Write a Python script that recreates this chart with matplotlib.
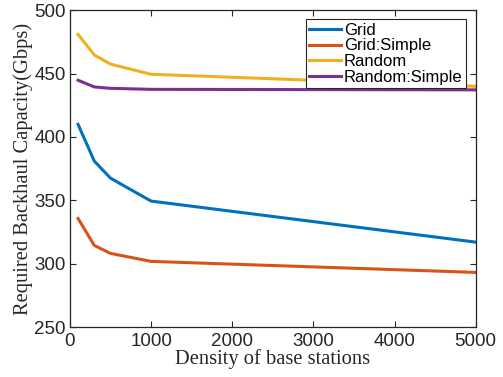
import matplotlib
matplotlib.use("Agg")
import matplotlib.pyplot as plt

density = [100, 300, 500, 1000, 5000]
grid = [410, 381, 367.5, 349.4, 317]
grid_simple = [335.7, 314.4, 308.1, 301.8, 293.1]
random_ = [481, 464.8, 457.5, 449.5, 440]
random_simple = [444.8, 439.5, 438.4, 437.6, 437.2]
labels = ["Grid", "Grid:Simple", "Random", "Random:Simple"]
colors = ["#0072BD", "#D95319", "#EDB120", "#7E2F8E"]
xticks = [0, 1000, 2000, 3000, 4000, 5000]
yticks = [250, 300, 350, 400, 450, 500]

plt.rcParams['font.family'] = ['Liberation Sans', 'DejaVu Sans']
fig = plt.figure(figsize=(5.03, 3.77), dpi=100)
ax = fig.add_axes([0.139, 0.1326, 0.8067, 0.8401])

for ys, lab, c in zip([grid, grid_simple, random_, random_simple], labels, colors):
    ax.plot(density, ys, color=c, lw=2.2, label=lab)

ax.set_xlim(0, 5000)
ax.set_ylim(250, 500)
ax.set_xticks(xticks)
ax.set_yticks(yticks)
ax.tick_params(direction='in', length=4, width=0.8, colors='#262626', labelsize=13.5,
               top=True, right=True)
ax.tick_params(axis='x', pad=4.5)
ax.tick_params(axis='y', pad=3)
for s in ax.spines.values():
    s.set_color('#262626')
    s.set_linewidth(0.9)

ax.set_xlabel("Density of base stations", family='Liberation Serif', fontsize=14.8,
              color='#262626', labelpad=-1)
ax.set_ylabel("Required Backhaul Capacity(Gbps)", family='Liberation Serif', fontsize=14.8,
              color='#262626', labelpad=1)

leg = ax.legend(loc='upper right', bbox_to_anchor=(0.976, 0.9716), borderaxespad=0,
                fontsize=12, frameon=True, fancybox=False, framealpha=1,
                edgecolor='#262626', handlelength=1.9, handletextpad=0.2,
                labelspacing=0.05, borderpad=0.2)
leg.get_frame().set_linewidth(0.8)

fig.savefig("out.png", dpi=100)
